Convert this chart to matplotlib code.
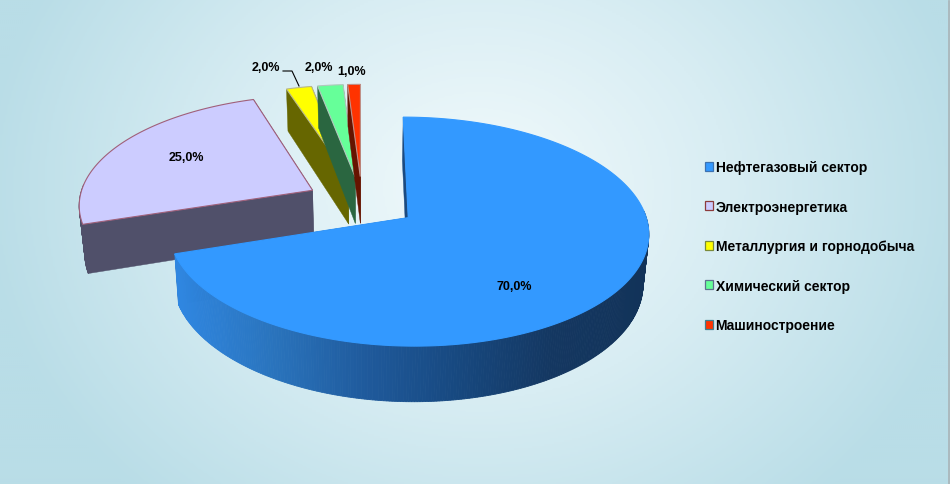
import numpy as np
import matplotlib
matplotlib.use("Agg")
import matplotlib.pyplot as plt
from matplotlib.patches import Patch, Polygon
from matplotlib.colors import LinearSegmentedColormap

plt.rcParams['font.family'] = ['Liberation Sans', 'DejaVu Sans']

# данные
names = ["Нефтегазовый сектор", "Электроэнергетика", "Металлургия и горнодобыча",
         "Химический сектор", "Машиностроение"]
shares = [70, 25, 2, 2, 1]

# цвета
top_colors = ["#3399ff", "#ccccff", "#ffff00", "#66ff99", "#ff3300"]
wall_colors = ["#1b4a80", "#50506a", "#666600", "#2a6640", "#661400"]
edge_colors = ["#3399ff", "#a0607a", "#b8b88a", "#b0c8bc", "#c09088"]
swatch_edges = ["#3d72b0", "#8c3b3b", "#7a8a3a", "#5f6f8f", "#3f7f90"]
blue_wall = LinearSegmentedColormap.from_list(
    "blue_wall", ["#2f86e0", "#2a74bd", "#1f5a9c", "#17487f", "#143761", "#123359"])

# геометрия 3D-круга (в пикселях картинки)
cx, cy = 362, 203
rx, ry = 234, 109
persp = 0.12
explode = 0.24
depth = 48
shrink = 0.98


def project(u, v):
    s = 1 / (1 - persp * v)
    return cx + rx * u * s, cy + ry * v * s


def project_low(u, v):
    s = 1 / (1 - persp * v)
    return cx + rx * u * s * shrink, cy + ry * v * s + depth * s


fig = plt.figure(figsize=(9.5, 4.85), dpi=100)
ax = fig.add_axes([0, 0, 1, 1])
ax.set_xlim(0, 950)
ax.set_ylim(485, 0)
ax.axis("off")

# фон
xx, yy = np.meshgrid(np.linspace(0, 950, 475), np.linspace(0, 485, 243))
rr = np.clip(np.sqrt(((xx - 480) / 500) ** 2 + ((yy - 190) / 420) ** 2), 0, 1)
bg = LinearSegmentedColormap.from_list("bg", ["#f2fafc", "#d8edf3", "#b9dde7"])
ax.imshow(rr, extent=(0, 950, 485, 0), cmap=bg, vmin=0, vmax=1, aspect="auto", zorder=0)
ax.plot([949.2, 949.2], [2, 485], color="#a9b4b8", lw=1.2, zorder=0.5)

fractions = np.array(shares) / sum(shares)
ends = np.cumsum(fractions) * 2 * np.pi
starts = ends - fractions * 2 * np.pi

z = 1
for i in [2, 3, 4, 1, 0]:
    a0, a1 = starts[i], ends[i]
    mid = (a0 + a1) / 2
    ou, ov = explode * np.sin(mid), -explode * np.cos(mid)
    theta = np.linspace(a0, a1, max(4, int(shares[i] * 6)))
    u = ou + np.sin(theta)
    v = ov - np.cos(theta)

    # боковые стенки разрезов
    for ang in [a1, a0]:
        eu, ev = ou + np.sin(ang), ov - np.cos(ang)
        wall = [project(ou, ov), project(eu, ev), project_low(eu, ev), project_low(ou, ov)]
        ax.add_patch(Polygon(wall, closed=True, fc=wall_colors[i], ec=wall_colors[i], lw=0.3, zorder=z))
        z += 1

    # внешняя стенка
    for k in range(len(theta) - 1):
        if -np.cos((theta[k] + theta[k + 1]) / 2) < -0.06:
            continue
        quad = [project(u[k], v[k]), project(u[k + 1], v[k + 1]),
                project_low(u[k + 1], v[k + 1]), project_low(u[k], v[k])]
        if i == 0:
            col = blue_wall((project(u[k], v[k])[0] - 178) / (650 - 178))
        else:
            col = wall_colors[i]
        ax.add_patch(Polygon(quad, closed=True, fc=col, ec=col, lw=0.6, zorder=z))
        z += 1

    # верхняя грань
    top = [project(ou, ov)] + [project(a, b) for a, b in zip(u, v)]
    ax.add_patch(Polygon(top, closed=True, fc=top_colors[i], ec=edge_colors[i], lw=0.8, zorder=z))
    z += 1

# подписи данных
label_x = [514, 186, 266, 319, 352]
label_y = [287, 158, 68, 68, 72]
for i in range(len(shares)):
    txt = f"{shares[i]:.1f}%".replace(".", ",")
    ax.text(label_x[i], label_y[i], txt, fontsize=9, fontweight="bold", color="black",
            ha="center", va="center", zorder=z + 1)

ax.plot([283, 292, 299], [72, 72, 87], color="black", lw=0.8, zorder=z + 1)

handles = [Patch(facecolor=top_colors[i], edgecolor=swatch_edges[i], lw=0.9) for i in range(len(names))]
leg = ax.legend(handles, names, loc="upper left", bbox_to_anchor=(704.5 / 950, 1 - 161 / 485),
                frameon=False, fontsize=10, labelspacing=1.84, handlelength=0.6,
                handleheight=0.62, handletextpad=0.2, borderpad=0, borderaxespad=0)
for t in leg.get_texts():
    t.set_fontweight("bold")
leg.set_zorder(z + 2)

plt.savefig("out.png", dpi=100)
